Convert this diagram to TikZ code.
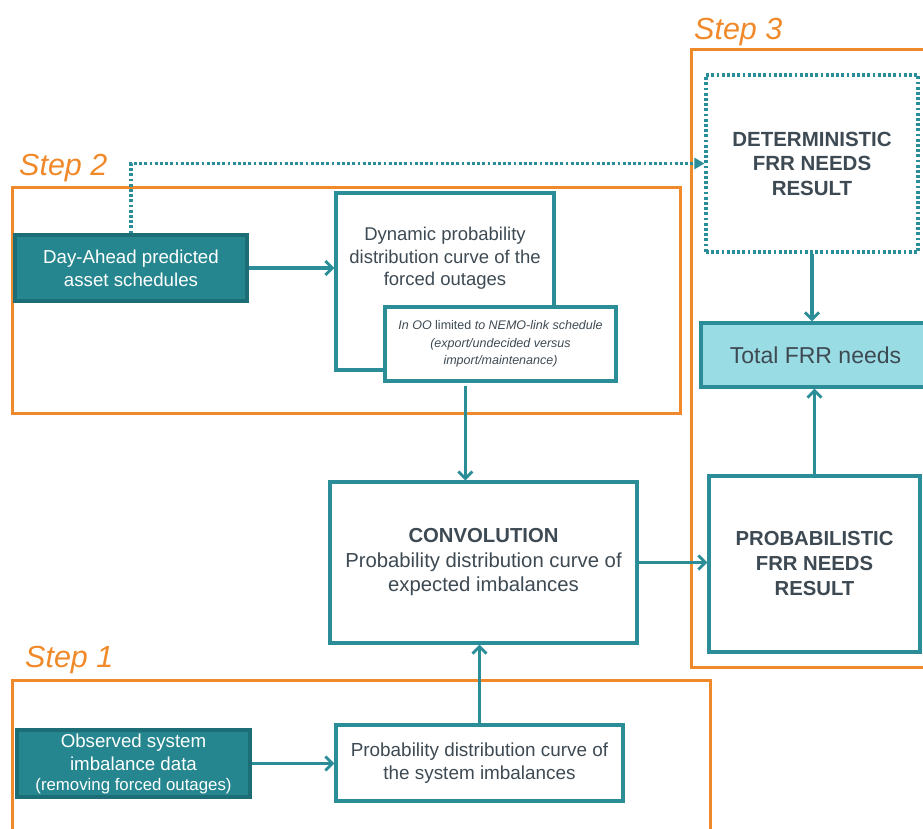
\documentclass[tikz,border=0pt]{standalone}
\usepackage{fontspec}
\setmainfont{Liberation Sans}
\usetikzlibrary{arrows.meta,calc}
\definecolor{teal1}{HTML}{2A8D98}
\definecolor{tealdark}{HTML}{1C6D76}
\definecolor{tealfill}{HTML}{25868F}
\definecolor{cyanfill}{HTML}{9ADCE4}
\definecolor{orng}{HTML}{F0892A}
\definecolor{txtgray}{HTML}{3E4A53}
\begin{document}
\begin{tikzpicture}[x=1pt,y=-1pt,
  frame/.style={draw=orng,line width=3pt,inner sep=0pt},
  steplabel/.style={text=orng,font=\fontsize{30.5}{31}\selectfont\itshape,inner sep=0pt,anchor=west},
  wbox/.style={draw=teal1,line width=3.2pt,fill=white,inner sep=0pt,align=center,text=txtgray,font=\fontsize{18.5}{23}\selectfont},
  dbox/.style={draw=tealdark,line width=3.2pt,fill=tealfill,inner sep=0pt,align=center,text=white,font=\fontsize{18.7}{23}\selectfont},
  conn/.style={draw=teal1,line width=3.2pt,-{Straight Barb[length=7pt,width=14pt,line width=2.8pt]}},
  dotconn/.style={draw=teal1,line width=3.2pt,dash pattern=on 2.8pt off 2.4pt,-{Triangle[length=10pt,width=11pt]}},
  txt/.style={inner sep=0pt,align=center,text=txtgray}
]
\useasboundingbox (0,0) rectangle (923,829);
\clip (0,0) rectangle (923,829);
% frames
\node[frame,minimum width=668pt,minimum height=225pt] (f2) at (346,300.5) {};
\node[frame,minimum width=698pt,minimum height=180pt] (f1) at (361,770) {};
\node[frame,minimum width=250pt,minimum height=617pt] (f3) at (816,358.5) {};
\node[steplabel] (l2) at (19,168) {Step 2};
\node[steplabel] (l1) at (25,660) {Step 1};
\node[steplabel] (l3) at (694,32) {Step 3};
% step 2
\node[dbox,minimum width=232pt,minimum height=66pt] (da) at (131,268) {Day-Ahead predicted\\asset schedules};
\node[wbox,minimum width=218pt,minimum height=177pt] (dyn) at (445,281.5) {};
\node[txt,font=\fontsize{18.5}{22.5}\selectfont] (dyntxt) at (445,258.5) {Dynamic probability\\distribution curve of the\\forced outages};
\node[wbox,minimum width=231pt,minimum height=74pt,font=\fontsize{12.5}{17.5}\selectfont\itshape] (nemo) at (500.5,344) {In OO {\upshape limited} to NEMO-link schedule\\(export/undecided versus\\import/maintenance)};
% step 3
\node[wbox,draw=teal1,dash pattern=on 2.8pt off 2.4pt,minimum width=212pt,minimum height=177pt,font=\fontsize{20.5}{24.5}\selectfont\bfseries] (det) at (812,163.5) {DETERMINISTIC\\FRR NEEDS\\RESULT};
\node[wbox,fill=cyanfill,minimum width=229pt,minimum height=64pt,font=\fontsize{23}{25}\selectfont] (tot) at (815.5,355) {Total FRR needs};
\node[wbox,minimum width=211pt,minimum height=176pt,font=\fontsize{20.3}{25}\selectfont\bfseries] (pr) at (814.5,564) {PROBABILISTIC\\FRR NEEDS\\RESULT};
% convolution
\node[wbox,minimum width=307pt,minimum height=161pt,font=\fontsize{20.3}{24.5}\selectfont] (conv) at (483.5,562.5) {\textbf{CONVOLUTION}\\Probability distribution curve of\\expected imbalances};
% step 1
\node[dbox,minimum width=233pt,minimum height=67pt] (obs) at (133.5,763.5) {Observed system\\imbalance data\\[-3pt]{\fontsize{16.8}{19}\selectfont(removing forced outages)}};
\node[wbox,minimum width=287pt,minimum height=76pt,font=\fontsize{18.9}{23}\selectfont] (pdc) at (479.5,763) {Probability distribution curve of\\the system imbalances};
% connectors
\draw[dotconn] (da.north) |- (det.west);
\draw[conn] (da.east) -- (da.east -| dyn.west);
\coordinate (nemoout) at ($(nemo.south west)!0.35!(nemo.south east)$);
\draw[conn,shorten <=3pt] (nemoout) -- (nemoout |- conv.north);
\draw[conn] (pdc.north) -- (pdc.north |- conv.south);
\draw[conn] (obs.east) -- (obs.east -| pdc.west);
\draw[conn] (conv.east) -- (conv.east -| pr.west);
\draw[conn] (det.south) -- (det.south |- tot.north);
\draw[conn] (pr.north) -- (pr.north |- tot.south);
\end{tikzpicture}
\end{document}
